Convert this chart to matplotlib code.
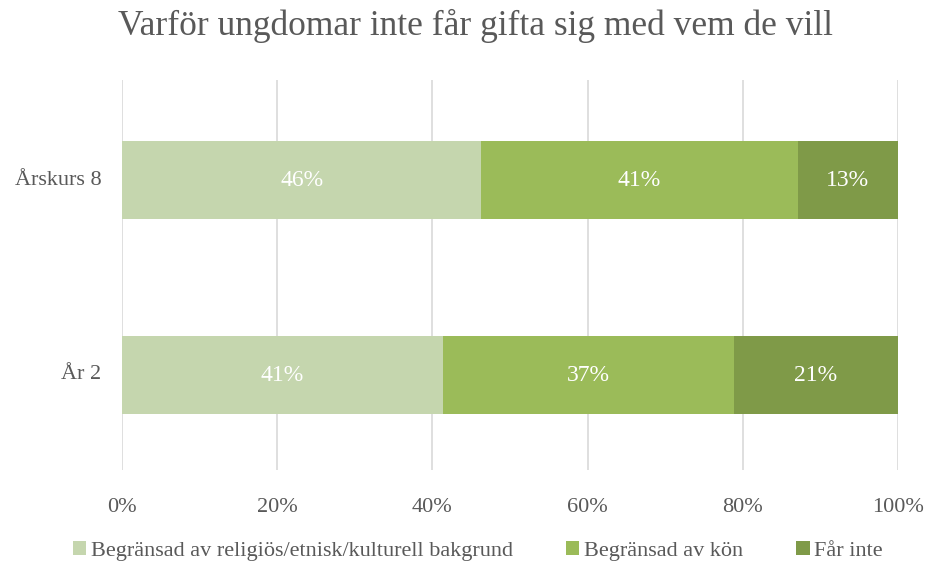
import numpy as np
import matplotlib.pyplot as plt

# data
categories = ['År 2', 'Årskurs 8']
series = ['Begränsad av religiös/etnisk/kulturell bakgrund', 'Begränsad av kön', 'Får inte']
values = {
    'Begränsad av religiös/etnisk/kulturell bakgrund': [41.4, 46.3],
    'Begränsad av kön': [37.5, 40.8],
    'Får inte': [21.1, 12.9],
}
labels = {
    'Begränsad av religiös/etnisk/kulturell bakgrund': ['41%', '46%'],
    'Begränsad av kön': ['37%', '41%'],
    'Får inte': ['21%', '13%'],
}
colors = ['#C5D6AE', '#9BBB59', '#7F9A48']

plt.rcParams['font.family'] = ['Liberation Serif', 'DejaVu Serif']
txt = '#595959'

fig = plt.figure(figsize=(9.28, 5.64), dpi=100)
ax = fig.add_axes([0.1315, 0.167, 0.836, 0.691])

y = np.arange(len(categories))
left = np.zeros(len(categories))
for s, c in zip(series, colors):
    v = np.array(values[s])
    ax.barh(y - 0.015, v, left=left, height=0.4, color=c, label=s, zorder=3)
    for yi, li, vi, lab in zip(y, left, v, labels[s]):
        ax.text(li + vi / 2, yi - 0.015, lab, ha='center', va='center', color='white', fontsize=17, zorder=4)
    left += v

ax.set_xlim(0, 100)
ax.set_ylim(-0.5, 1.5)
ax.set_xticks(np.arange(0, 101, 20))
ax.set_xticklabels([f'{t}%' for t in range(0, 101, 20)])
ax.set_yticks(y)
ax.set_yticklabels(categories)
ax.tick_params(length=0, labelsize=16, colors=txt, pad=15)
ax.tick_params(axis='x', pad=20)
ax.grid(axis='x', color='#D9D9D9', linewidth=1.2, zorder=0)
for sp in ax.spines.values():
    sp.set_visible(False)

fig.suptitle('Varför ungdomar inte får gifta sig med vem de vill', x=0.512, y=0.985, fontsize=25.5, color=txt)
fig.legend(loc='lower center', bbox_to_anchor=(0.515, -0.03), ncol=3, frameon=False,
           fontsize=16, labelcolor=txt, handlelength=0.6, handleheight=0.6,
           handletextpad=0.2, columnspacing=2.4)

fig.savefig('out.png', dpi=100)
